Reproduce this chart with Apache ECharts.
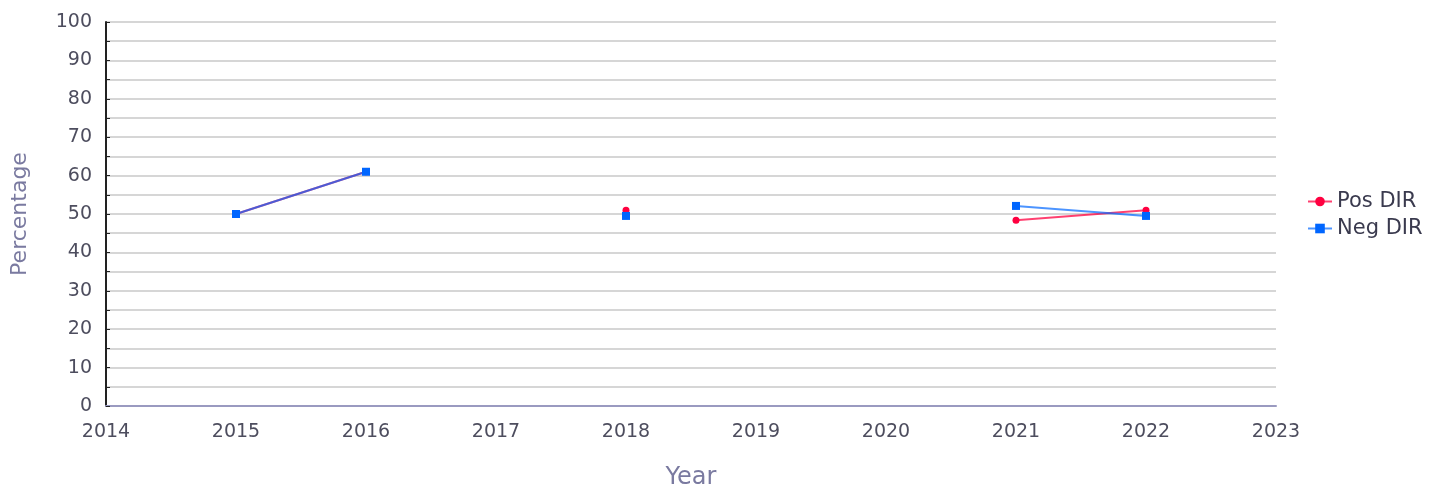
<!DOCTYPE html>
<html>
<head>
<meta charset="utf-8">
<script src="https://cdn.jsdelivr.net/npm/echarts@6/dist/echarts.min.js"></script>
<style>
  html, body { margin: 0; padding: 0; background: #fff; }
  #chart { width: 1442px; height: 489px; }
</style>
</head>
<body>
<div id="chart"></div>
<script>
const years = [2015, 2016, 2017, 2018, 2019, 2020, 2021, 2022];
const posDir = [50, 61, null, 51, null, null, 48.4, 51];
const negDir = [50, 61, null, 49.5, null, null, 52.1, 49.5];

const toPairs = (vals) => years.map((y, i) => [y, vals[i] == null ? '-' : vals[i]]);

const myChart = echarts.init(document.getElementById('chart'));
const labelColor = '#4d4d5e';
const nameColor = '#7a7aa0';

const option = {
  animation: false,
  textStyle: { fontFamily: 'DejaVu Sans' },
  grid: { left: 106, right: 166, top: 22, bottom: 83, containLabel: false, outerBoundsMode: 'none' },
  legend: {
    orient: 'vertical',
    left: 1302,
    top: 186,
    itemWidth: 24,
    itemHeight: 12,
    itemGap: 6,
    textStyle: { fontSize: 21, color: '#3a3a4e', fontFamily: 'DejaVu Sans' },
    data: ['Pos DIR', 'Neg DIR']
  },
  xAxis: {
    type: 'value',
    min: 2014,
    max: 2023,
    interval: 1,
    name: 'Year',
    nameLocation: 'middle',
    nameGap: 60,
    nameTextStyle: { fontSize: 24, color: nameColor },
    axisLine: { lineStyle: { color: '#9a9ac0', width: 2 } },
    axisTick: { show: false },
    splitLine: { show: false },
    axisLabel: {
      fontSize: 19,
      color: labelColor,
      margin: 17,
      formatter: (v) => String(v)
    }
  },
  yAxis: {
    type: 'value',
    min: 0,
    max: 100,
    interval: 5,
    name: 'Percentage',
    nameLocation: 'middle',
    nameGap: 75,
    nameTextStyle: { fontSize: 22, color: nameColor },
    axisLine: { show: true, lineStyle: { color: '#222', width: 2 } },
    axisTick: { show: true, inside: true, length: 4, lineStyle: { color: '#222' } },
    splitLine: { lineStyle: { color: '#d6d6d6', width: 2 } },
    axisLabel: {
      fontSize: 19,
      color: labelColor,
      margin: 14,
      formatter: (v) => (v % 10 === 0 ? String(v) : '')
    }
  },
  series: [
    {
      name: 'Pos DIR',
      type: 'line',
      data: toPairs(posDir),
      symbol: 'circle',
      symbolSize: 7,
      showAllSymbol: true,
      connectNulls: false,
      itemStyle: { color: '#ff0040' },
      lineStyle: { color: '#ff0040', width: 2, opacity: 0.75 }
    },
    {
      name: 'Neg DIR',
      type: 'line',
      data: toPairs(negDir),
      symbol: 'rect',
      symbolSize: 8,
      showAllSymbol: true,
      connectNulls: false,
      itemStyle: { color: '#0066ff' },
      lineStyle: { color: '#0066ff', width: 2, opacity: 0.7 }
    }
  ]
};

myChart.setOption(option);
</script>
</body>
</html>
